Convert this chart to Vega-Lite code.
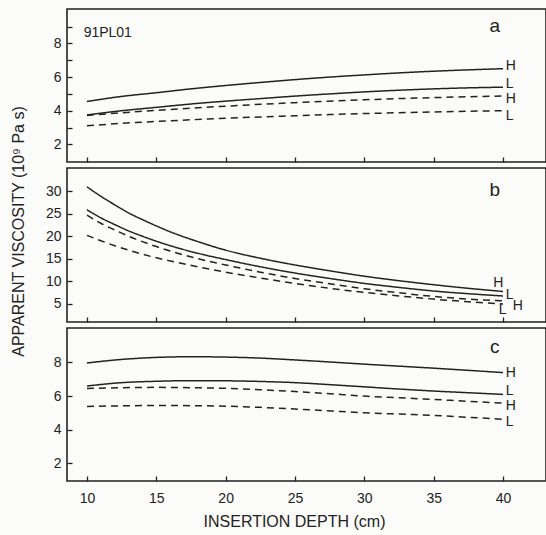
{
  "$schema": "https://vega.github.io/schema/vega-lite/v6.json",
  "background": "#fbfbf9",
  "padding": {"left": 9, "top": 8, "right": 1, "bottom": 5},
  "spacing": 6,
  "bounds": "flush",
  "config": {
    "view": {"stroke": "#222", "strokeWidth": 1.6},
    "axis": {"domain": false, "grid": false, "labelOverlap": false, "tickColor": "#222", "tickWidth": 1.3, "tickSize": -5, "labelFont": "Liberation Sans", "labelFontSize": 14, "labelColor": "#222", "titleFont": "Liberation Sans", "titleFontSize": 16, "titleFontWeight": "normal", "titleColor": "#222"},
    "text": {"font": "Liberation Sans", "fontSize": 14, "color": "#222"},
    "line": {"color": "#222", "strokeWidth": 1.5}
  },
  "datasets": {
    "curves": [
      {"p":"a","s":"HS","k":"solid","x":10,"v":4.55},{"p":"a","s":"HS","k":"solid","x":12.5,"v":4.85},{"p":"a","s":"HS","k":"solid","x":15,"v":5.07},{"p":"a","s":"HS","k":"solid","x":17.5,"v":5.3},{"p":"a","s":"HS","k":"solid","x":20,"v":5.5},{"p":"a","s":"HS","k":"solid","x":22.5,"v":5.68},{"p":"a","s":"HS","k":"solid","x":25,"v":5.85},{"p":"a","s":"HS","k":"solid","x":27.5,"v":6.0},{"p":"a","s":"HS","k":"solid","x":30,"v":6.13},{"p":"a","s":"HS","k":"solid","x":32.5,"v":6.25},{"p":"a","s":"HS","k":"solid","x":35,"v":6.35},{"p":"a","s":"HS","k":"solid","x":37.5,"v":6.43},{"p":"a","s":"HS","k":"solid","x":40,"v":6.5},
      {"p":"a","s":"LS","k":"solid","x":10,"v":3.75},{"p":"a","s":"LS","k":"solid","x":12.5,"v":4.0},{"p":"a","s":"LS","k":"solid","x":15,"v":4.2},{"p":"a","s":"LS","k":"solid","x":17.5,"v":4.4},{"p":"a","s":"LS","k":"solid","x":20,"v":4.57},{"p":"a","s":"LS","k":"solid","x":22.5,"v":4.72},{"p":"a","s":"LS","k":"solid","x":25,"v":4.87},{"p":"a","s":"LS","k":"solid","x":27.5,"v":5.0},{"p":"a","s":"LS","k":"solid","x":30,"v":5.12},{"p":"a","s":"LS","k":"solid","x":32.5,"v":5.22},{"p":"a","s":"LS","k":"solid","x":35,"v":5.3},{"p":"a","s":"LS","k":"solid","x":37.5,"v":5.36},{"p":"a","s":"LS","k":"solid","x":40,"v":5.4},
      {"p":"a","s":"HD","k":"dashed","x":10,"v":3.72},{"p":"a","s":"HD","k":"dashed","x":12.5,"v":3.88},{"p":"a","s":"HD","k":"dashed","x":15,"v":4.02},{"p":"a","s":"HD","k":"dashed","x":17.5,"v":4.15},{"p":"a","s":"HD","k":"dashed","x":20,"v":4.27},{"p":"a","s":"HD","k":"dashed","x":22.5,"v":4.38},{"p":"a","s":"HD","k":"dashed","x":25,"v":4.48},{"p":"a","s":"HD","k":"dashed","x":27.5,"v":4.57},{"p":"a","s":"HD","k":"dashed","x":30,"v":4.65},{"p":"a","s":"HD","k":"dashed","x":32.5,"v":4.72},{"p":"a","s":"HD","k":"dashed","x":35,"v":4.78},{"p":"a","s":"HD","k":"dashed","x":37.5,"v":4.83},{"p":"a","s":"HD","k":"dashed","x":40,"v":4.87},
      {"p":"a","s":"LD","k":"dashed","x":10,"v":3.1},{"p":"a","s":"LD","k":"dashed","x":12.5,"v":3.25},{"p":"a","s":"LD","k":"dashed","x":15,"v":3.36},{"p":"a","s":"LD","k":"dashed","x":17.5,"v":3.46},{"p":"a","s":"LD","k":"dashed","x":20,"v":3.55},{"p":"a","s":"LD","k":"dashed","x":22.5,"v":3.63},{"p":"a","s":"LD","k":"dashed","x":25,"v":3.7},{"p":"a","s":"LD","k":"dashed","x":27.5,"v":3.77},{"p":"a","s":"LD","k":"dashed","x":30,"v":3.83},{"p":"a","s":"LD","k":"dashed","x":32.5,"v":3.88},{"p":"a","s":"LD","k":"dashed","x":35,"v":3.93},{"p":"a","s":"LD","k":"dashed","x":37.5,"v":3.97},{"p":"a","s":"LD","k":"dashed","x":40,"v":4.0},
      {"p":"b","s":"HS","k":"solid","x":10,"v":31.0},{"p":"b","s":"HS","k":"solid","x":11,"v":28.9},{"p":"b","s":"HS","k":"solid","x":12,"v":27.0},{"p":"b","s":"HS","k":"solid","x":13,"v":25.2},{"p":"b","s":"HS","k":"solid","x":14,"v":23.7},{"p":"b","s":"HS","k":"solid","x":15,"v":22.3},{"p":"b","s":"HS","k":"solid","x":16,"v":21.0},{"p":"b","s":"HS","k":"solid","x":18,"v":18.8},{"p":"b","s":"HS","k":"solid","x":20,"v":16.9},{"p":"b","s":"HS","k":"solid","x":22.5,"v":15.1},{"p":"b","s":"HS","k":"solid","x":25,"v":13.6},{"p":"b","s":"HS","k":"solid","x":27.5,"v":12.3},{"p":"b","s":"HS","k":"solid","x":30,"v":11.1},{"p":"b","s":"HS","k":"solid","x":32.5,"v":10.1},{"p":"b","s":"HS","k":"solid","x":35,"v":9.2},{"p":"b","s":"HS","k":"solid","x":37.5,"v":8.4},{"p":"b","s":"HS","k":"solid","x":40,"v":7.7},
      {"p":"b","s":"LS","k":"solid","x":10,"v":25.9},{"p":"b","s":"LS","k":"solid","x":11,"v":24.1},{"p":"b","s":"LS","k":"solid","x":12,"v":22.6},{"p":"b","s":"LS","k":"solid","x":13,"v":21.2},{"p":"b","s":"LS","k":"solid","x":14,"v":20.0},{"p":"b","s":"LS","k":"solid","x":15,"v":18.9},{"p":"b","s":"LS","k":"solid","x":16,"v":17.9},{"p":"b","s":"LS","k":"solid","x":18,"v":16.2},{"p":"b","s":"LS","k":"solid","x":20,"v":14.8},{"p":"b","s":"LS","k":"solid","x":22.5,"v":13.2},{"p":"b","s":"LS","k":"solid","x":25,"v":11.8},{"p":"b","s":"LS","k":"solid","x":27.5,"v":10.6},{"p":"b","s":"LS","k":"solid","x":30,"v":9.5},{"p":"b","s":"LS","k":"solid","x":32.5,"v":8.6},{"p":"b","s":"LS","k":"solid","x":35,"v":7.8},{"p":"b","s":"LS","k":"solid","x":37.5,"v":7.2},{"p":"b","s":"LS","k":"solid","x":40,"v":6.7},
      {"p":"b","s":"HD","k":"dashed","x":10,"v":24.7},{"p":"b","s":"HD","k":"dashed","x":11,"v":22.9},{"p":"b","s":"HD","k":"dashed","x":12,"v":21.4},{"p":"b","s":"HD","k":"dashed","x":13,"v":20.0},{"p":"b","s":"HD","k":"dashed","x":14,"v":18.8},{"p":"b","s":"HD","k":"dashed","x":15,"v":17.7},{"p":"b","s":"HD","k":"dashed","x":16,"v":16.7},{"p":"b","s":"HD","k":"dashed","x":18,"v":15.0},{"p":"b","s":"HD","k":"dashed","x":20,"v":13.6},{"p":"b","s":"HD","k":"dashed","x":22.5,"v":12.0},{"p":"b","s":"HD","k":"dashed","x":25,"v":10.6},{"p":"b","s":"HD","k":"dashed","x":27.5,"v":9.4},{"p":"b","s":"HD","k":"dashed","x":30,"v":8.3},{"p":"b","s":"HD","k":"dashed","x":32.5,"v":7.4},{"p":"b","s":"HD","k":"dashed","x":35,"v":6.6},{"p":"b","s":"HD","k":"dashed","x":37.5,"v":6.0},{"p":"b","s":"HD","k":"dashed","x":40,"v":5.6},
      {"p":"b","s":"LD","k":"dashed","x":10,"v":20.2},{"p":"b","s":"LD","k":"dashed","x":11,"v":19.0},{"p":"b","s":"LD","k":"dashed","x":12,"v":17.9},{"p":"b","s":"LD","k":"dashed","x":13,"v":16.9},{"p":"b","s":"LD","k":"dashed","x":14,"v":16.0},{"p":"b","s":"LD","k":"dashed","x":15,"v":15.2},{"p":"b","s":"LD","k":"dashed","x":16,"v":14.5},{"p":"b","s":"LD","k":"dashed","x":18,"v":13.2},{"p":"b","s":"LD","k":"dashed","x":20,"v":12.0},{"p":"b","s":"LD","k":"dashed","x":22.5,"v":10.7},{"p":"b","s":"LD","k":"dashed","x":25,"v":9.5},{"p":"b","s":"LD","k":"dashed","x":27.5,"v":8.4},{"p":"b","s":"LD","k":"dashed","x":30,"v":7.5},{"p":"b","s":"LD","k":"dashed","x":32.5,"v":6.7},{"p":"b","s":"LD","k":"dashed","x":35,"v":6.0},{"p":"b","s":"LD","k":"dashed","x":37.5,"v":5.4},{"p":"b","s":"LD","k":"dashed","x":40,"v":4.9},
      {"p":"c","s":"HS","k":"solid","x":10,"v":7.97},{"p":"c","s":"HS","k":"solid","x":12.5,"v":8.18},{"p":"c","s":"HS","k":"solid","x":15,"v":8.3},{"p":"c","s":"HS","k":"solid","x":17.5,"v":8.34},{"p":"c","s":"HS","k":"solid","x":20,"v":8.32},{"p":"c","s":"HS","k":"solid","x":22.5,"v":8.26},{"p":"c","s":"HS","k":"solid","x":25,"v":8.15},{"p":"c","s":"HS","k":"solid","x":27.5,"v":8.03},{"p":"c","s":"HS","k":"solid","x":30,"v":7.9},{"p":"c","s":"HS","k":"solid","x":32.5,"v":7.78},{"p":"c","s":"HS","k":"solid","x":35,"v":7.66},{"p":"c","s":"HS","k":"solid","x":37.5,"v":7.53},{"p":"c","s":"HS","k":"solid","x":40,"v":7.4},
      {"p":"c","s":"LS","k":"solid","x":10,"v":6.6},{"p":"c","s":"LS","k":"solid","x":12.5,"v":6.8},{"p":"c","s":"LS","k":"solid","x":15,"v":6.88},{"p":"c","s":"LS","k":"solid","x":17.5,"v":6.92},{"p":"c","s":"LS","k":"solid","x":20,"v":6.91},{"p":"c","s":"LS","k":"solid","x":22.5,"v":6.87},{"p":"c","s":"LS","k":"solid","x":25,"v":6.8},{"p":"c","s":"LS","k":"solid","x":27.5,"v":6.68},{"p":"c","s":"LS","k":"solid","x":30,"v":6.55},{"p":"c","s":"LS","k":"solid","x":32.5,"v":6.42},{"p":"c","s":"LS","k":"solid","x":35,"v":6.3},{"p":"c","s":"LS","k":"solid","x":37.5,"v":6.2},{"p":"c","s":"LS","k":"solid","x":40,"v":6.1},
      {"p":"c","s":"HD","k":"dashed","x":10,"v":6.45},{"p":"c","s":"HD","k":"dashed","x":12.5,"v":6.5},{"p":"c","s":"HD","k":"dashed","x":15,"v":6.52},{"p":"c","s":"HD","k":"dashed","x":17.5,"v":6.5},{"p":"c","s":"HD","k":"dashed","x":20,"v":6.46},{"p":"c","s":"HD","k":"dashed","x":22.5,"v":6.38},{"p":"c","s":"HD","k":"dashed","x":25,"v":6.27},{"p":"c","s":"HD","k":"dashed","x":27.5,"v":6.14},{"p":"c","s":"HD","k":"dashed","x":30,"v":6.0},{"p":"c","s":"HD","k":"dashed","x":32.5,"v":5.9},{"p":"c","s":"HD","k":"dashed","x":35,"v":5.8},{"p":"c","s":"HD","k":"dashed","x":37.5,"v":5.69},{"p":"c","s":"HD","k":"dashed","x":40,"v":5.58},
      {"p":"c","s":"LD","k":"dashed","x":10,"v":5.38},{"p":"c","s":"LD","k":"dashed","x":12.5,"v":5.42},{"p":"c","s":"LD","k":"dashed","x":15,"v":5.44},{"p":"c","s":"LD","k":"dashed","x":17.5,"v":5.43},{"p":"c","s":"LD","k":"dashed","x":20,"v":5.4},{"p":"c","s":"LD","k":"dashed","x":22.5,"v":5.33},{"p":"c","s":"LD","k":"dashed","x":25,"v":5.23},{"p":"c","s":"LD","k":"dashed","x":27.5,"v":5.12},{"p":"c","s":"LD","k":"dashed","x":30,"v":5.01},{"p":"c","s":"LD","k":"dashed","x":32.5,"v":4.93},{"p":"c","s":"LD","k":"dashed","x":35,"v":4.85},{"p":"c","s":"LD","k":"dashed","x":37.5,"v":4.74},{"p":"c","s":"LD","k":"dashed","x":40,"v":4.62}
    ],
    "labels": [
      {"p":"a","t":"H","x":40.2,"v":6.67},{"p":"a","t":"L","x":40.2,"v":5.61},{"p":"a","t":"H","x":40.2,"v":4.7},{"p":"a","t":"L","x":40.2,"v":3.7},
      {"p":"b","t":"H","x":39.3,"v":9.6},{"p":"b","t":"L","x":40.2,"v":6.9},{"p":"b","t":"H","x":40.7,"v":4.5},{"p":"b","t":"L","x":39.7,"v":3.6},
      {"p":"c","t":"H","x":40.2,"v":7.4},{"p":"c","t":"L","x":40.2,"v":6.3},{"p":"c","t":"H","x":40.2,"v":5.42},{"p":"c","t":"L","x":40.2,"v":4.48}
    ],
    "notes": [
      {"p":"a","t":"a","x":39.4,"v":9.05,"s":19},{"p":"a","t":"91PL01","x":11.5,"v":8.6,"s":14},
      {"p":"b","t":"b","x":39.4,"v":30.3,"s":19},
      {"p":"c","t":"c","x":39.4,"v":8.9,"s":19}
    ]
  },
  "vconcat": [
    {
      "width": 479, "height": 153,
      "encoding": {
        "x": {"field": "x", "type": "quantitative", "scale": {"domain": [8.56, 43.1], "nice": false}, "axis": {"values": [10,15,20,25,30,35,40], "labels": false, "title": null}},
        "y": {"field": "v", "type": "quantitative", "scale": {"domain": [0.95, 10.05], "nice": false}, "axis": {"values": [2,3,4,5,6,7,8,9], "labelExpr": "datum.value % 2 == 0 ? datum.label : ''", "title": null, "labelPadding": 11, "labelOverlap": false}}
      },
      "layer": [
        {"data": {"name": "curves"}, "transform": [{"filter": "datum.p == 'a'"}],
         "mark": {"type": "line", "interpolate": "monotone"},
         "encoding": {
           "detail": {"field": "s"},
           "strokeDash": {"field": "k", "type": "nominal", "scale": {"domain": ["solid","dashed"], "range": [[1,0],[7,5]]}, "legend": null}
         }},
        {"data": {"name": "labels"}, "transform": [{"filter": "datum.p == 'a'"}],
         "mark": {"type": "text", "align": "left", "baseline": "middle"},
         "encoding": {"text": {"field": "t"}}},
        {"data": {"name": "notes"}, "transform": [{"filter": "datum.p == 'a'"}],
         "mark": {"type": "text", "align": "center", "baseline": "middle"},
         "encoding": {"text": {"field": "t"}, "size": {"field": "s", "type": "quantitative", "scale": null}}}
      ]
    },
    {
      "width": 479, "height": 154,
      "encoding": {
        "x": {"field": "x", "type": "quantitative", "scale": {"domain": [8.56, 43.1], "nice": false}, "axis": {"values": [10,15,20,25,30,35,40], "labels": false, "title": null}},
        "y": {"field": "v", "type": "quantitative", "scale": {"domain": [0.9, 35.2], "nice": false}, "axis": {"values": [5,10,15,20,25,30], "title": "APPARENT VISCOSITY (10⁹ Pa s)", "labelPadding": 11, "titlePadding": 19, "titleY": 63, "labelOverlap": false}}
      },
      "layer": [
        {"data": {"name": "curves"}, "transform": [{"filter": "datum.p == 'b'"}],
         "mark": {"type": "line", "interpolate": "monotone"},
         "encoding": {
           "detail": {"field": "s"},
           "strokeDash": {"field": "k", "type": "nominal", "scale": {"domain": ["solid","dashed"], "range": [[1,0],[7,5]]}, "legend": null}
         }},
        {"data": {"name": "labels"}, "transform": [{"filter": "datum.p == 'b'"}],
         "mark": {"type": "text", "align": "left", "baseline": "middle"},
         "encoding": {"text": {"field": "t"}}},
        {"data": {"name": "notes"}, "transform": [{"filter": "datum.p == 'b'"}],
         "mark": {"type": "text", "align": "center", "baseline": "middle"},
         "encoding": {"text": {"field": "t"}, "size": {"field": "s", "type": "quantitative", "scale": null}}}
      ]
    },
    {
      "width": 479, "height": 153,
      "layer": [
        {"data": {"name": "curves"}, "transform": [{"filter": "datum.p == 'c'"}],
         "mark": {"type": "line", "interpolate": "monotone"},
         "encoding": {
           "x": {"field": "x", "type": "quantitative", "scale": {"domain": [8.56, 43.1], "nice": false}, "axis": {"values": [10,15,20,25,30,35,40], "title": "INSERTION DEPTH (cm)", "labelPadding": 15.5, "titlePadding": 8, "titleX": 227, "labelOverlap": false}},
           "y": {"field": "v", "type": "quantitative", "scale": {"domain": [0.95, 10.05], "nice": false}, "axis": {"values": [2,3,4,5,6,7,8,9], "labelExpr": "datum.value % 2 == 0 ? datum.label : ''", "title": null, "labelPadding": 11, "labelOverlap": false}},
           "detail": {"field": "s"},
           "strokeDash": {"field": "k", "type": "nominal", "scale": {"domain": ["solid","dashed"], "range": [[1,0],[7,5]]}, "legend": null}
         }},
        {"data": {"name": "labels"}, "transform": [{"filter": "datum.p == 'c'"}],
         "mark": {"type": "text", "align": "left", "baseline": "middle"},
         "encoding": {"x": {"field": "x", "type": "quantitative"}, "y": {"field": "v", "type": "quantitative"}, "text": {"field": "t"}}},
        {"data": {"name": "notes"}, "transform": [{"filter": "datum.p == 'c'"}],
         "mark": {"type": "text", "align": "center", "baseline": "middle"},
         "encoding": {"x": {"field": "x", "type": "quantitative"}, "y": {"field": "v", "type": "quantitative"}, "text": {"field": "t"}, "size": {"field": "s", "type": "quantitative", "scale": null}}}
      ]
    }
  ]
}
